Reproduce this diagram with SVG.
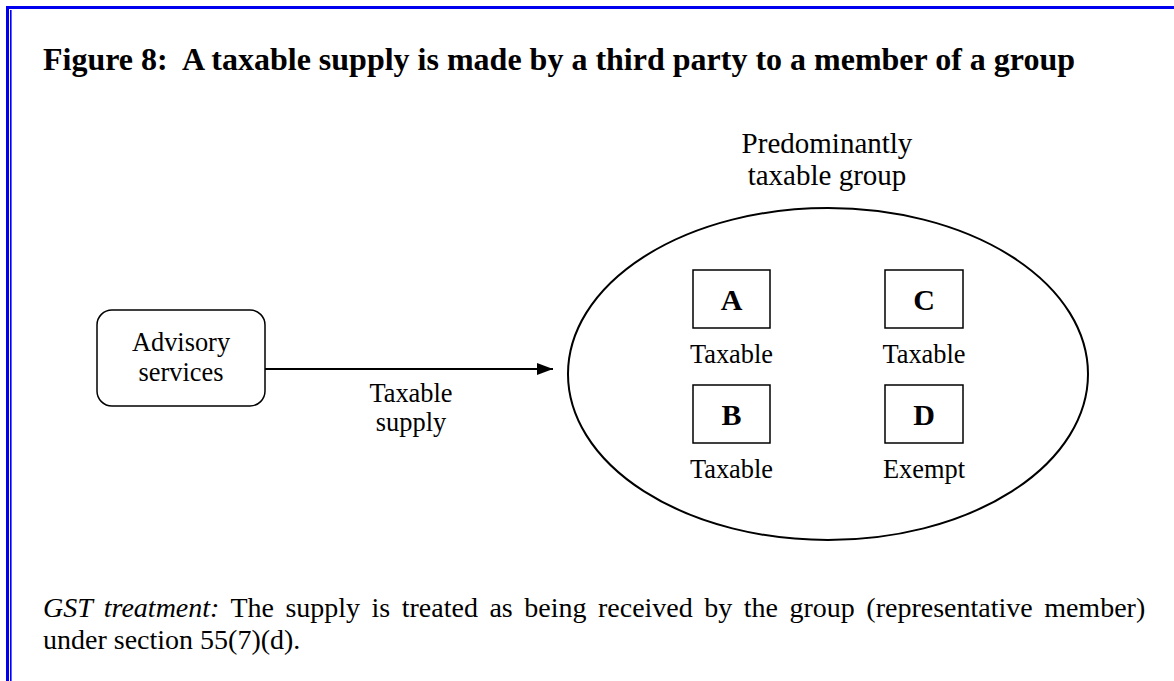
<svg xmlns="http://www.w3.org/2000/svg" width="1174" height="681" viewBox="0 0 1174 681">
<style>
text{font-family:"Liberation Serif","Times New Roman",serif;fill:#000}
.t{font-size:26.4px;text-anchor:middle}
.g{font-size:29px;text-anchor:middle}
.L{font-size:30px;font-weight:bold;text-anchor:middle}
.bx{fill:#fff;stroke:#000;stroke-width:1.5}
</style>
<defs>
<marker id="ah" markerWidth="16" markerHeight="12" refX="16" refY="6" orient="auto" markerUnits="userSpaceOnUse">
<path d="M0,0 L16,6 L0,12 Z" fill="#000"/>
</marker>
</defs>
<rect width="1174" height="681" fill="#fff"/>
<g id="frame" fill="#0000ee">
<rect x="6" y="6" width="1168" height="3"/>
<rect x="6" y="6" width="3" height="675"/>
<rect x="10" y="10" width="1.6" height="671"/>
</g>
<text x="43" y="70" style="font-size:32px;font-weight:bold" xml:space="preserve">Figure 8:  A taxable supply is made by a third party to a member of a group</text>
<g id="advisory">
<rect x="97" y="310" width="168" height="96" rx="15" class="bx" stroke-width="2"/>
<text class="t" x="181" y="351">Advisory</text>
<text class="t" x="181" y="381">services</text>
</g>
<g id="connectors">
<line x1="265" y1="369" x2="553" y2="369" stroke="#000" stroke-width="2" marker-end="url(#ah)"/>
<text class="t" x="411" y="402">Taxable</text>
<text class="t" x="411" y="431">supply</text>
</g>
<g id="group">
<ellipse cx="828" cy="374" rx="260" ry="166" fill="none" stroke="#000" stroke-width="2"/>
<text class="g" x="827" y="153">Predominantly</text>
<text class="g" x="827" y="185">taxable group</text>
</g>
<g id="A">
<rect x="693" y="270" width="77" height="58" class="bx"/>
<text class="L" x="731.5" y="310">A</text>
<text class="t" x="731.5" y="363">Taxable</text>
</g>
<g id="C">
<rect x="885" y="270" width="78" height="58" class="bx"/>
<text class="L" x="924" y="310">C</text>
<text class="t" x="924" y="363">Taxable</text>
</g>
<g id="B">
<rect x="693" y="385" width="77" height="58" class="bx"/>
<text class="L" x="731.5" y="425">B</text>
<text class="t" x="731.5" y="478">Taxable</text>
</g>
<g id="D">
<rect x="885" y="385" width="78" height="58" class="bx"/>
<text class="L" x="924" y="425">D</text>
<text class="t" x="924" y="478">Exempt</text>
</g>
<g id="footer" style="font-size:28px">
<text x="43" y="617" word-spacing="4.5"><tspan font-style="italic">GST treatment:</tspan> The supply is treated as being received by the group (representative member)</text>
<text x="43" y="649">under section 55(7)(d).</text>
</g>
</svg>
